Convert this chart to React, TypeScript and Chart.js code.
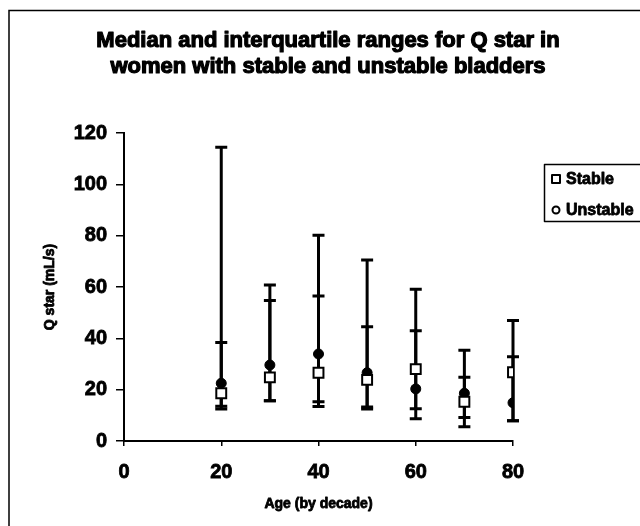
import React, { useEffect, useRef } from "react";
import { Chart, registerables } from "chart.js";

Chart.register(...registerables);

const titleLines = [
  "Median and interquartile ranges for Q star in",
  "women with stable and unstable bladders",
];
const xTitle = "Age (by decade)";
const yTitle = "Q star (mL/s)";

const ages = [20, 30, 40, 50, 60, 70, 80];
const stableMedian = [18.6, 24.8, 26.6, 23.8, 28, 15.3, 26.8];
const stableLower = [13.5, 15.7, 13.4, 12.5, 12.6, 5.6, 7.9];
const stableUpper = [38.4, 54.7, 56.5, 44.5, 59.1, 24.8, 32.8];
const unstableMedian = [22.5, 29.6, 33.9, 26.6, 20.3, 18.6, 14.9];
const unstableLower = [12.5, 15.7, 15.3, 13.2, 8.7, 9.2, 7.9];
const unstableUpper = [114.4, 60.8, 80.2, 70.5, 43, 35.4, 46.9];

const xTicks = [0, 20, 40, 60, 80];
const yTicks = [0, 20, 40, 60, 80, 100, 120];

const FONT = "'Liberation Sans', Arial, sans-serif";

const errorBars = {
  id: "errorBars",
  beforeDatasetsDraw(chart: any) {
    const { ctx, scales } = chart;
    const x = scales.x;
    const y = scales.y;
    ctx.save();
    ctx.strokeStyle = "#000";
    ctx.lineWidth = 3;
    ctx.lineCap = "butt";
    chart.data.datasets.forEach((ds: any) => {
      ds.data.forEach((p: any, i: number) => {
        const px = x.getPixelForValue(p.x);
        const y1 = y.getPixelForValue(ds.lower[i]);
        const y2 = y.getPixelForValue(ds.upper[i]);
        ctx.beginPath();
        ctx.moveTo(px, y1);
        ctx.lineTo(px, y2);
        ctx.moveTo(px - 6, y1);
        ctx.lineTo(px + 6, y1);
        ctx.moveTo(px - 6, y2);
        ctx.lineTo(px + 6, y2);
        ctx.stroke();
      });
    });
    ctx.restore();
  },
};

const decorations = {
  id: "decorations",
  afterDraw(chart: any) {
    const { ctx } = chart;
    ctx.save();
    // outer frame
    ctx.strokeStyle = "#000";
    ctx.lineWidth = 1.5;
    ctx.strokeRect(9, 10.5, 700, 600);
    // title
    ctx.fillStyle = "#000";
    ctx.font = `bold 22px ${FONT}`;
    ctx.textAlign = "center";
    ctx.textBaseline = "middle";
    ctx.lineWidth = 1.2;
    ctx.lineJoin = "round";
    titleLines.forEach((t, i) => {
      const ty = 41 + i * 26;
      ctx.strokeText(t, 328, ty);
      ctx.fillText(t, 328, ty);
    });
    // axis titles
    ctx.font = `bold 14px ${FONT}`;
    ctx.lineWidth = 0.8;
    const { chartArea } = chart;
    const cx = (chartArea.left + chartArea.right) / 2;
    ctx.strokeText(xTitle, cx, 504);
    ctx.fillText(xTitle, cx, 504);
    ctx.save();
    ctx.translate(50, (chartArea.top + chartArea.bottom) / 2);
    ctx.rotate(-Math.PI / 2);
    ctx.strokeText(yTitle, 0, 0);
    ctx.fillText(yTitle, 0, 0);
    ctx.restore();
    // legend
    ctx.lineWidth = 1.5;
    ctx.strokeRect(544.5, 164.5, 120, 57);
    ctx.font = `bold 16px ${FONT}`;
    ctx.textAlign = "left";
    const items = chart.data.datasets;
    items.forEach((ds: any, i: number) => {
      const cy = 179 + i * 31;
      const mx = 556;
      ctx.lineWidth = 2;
      ctx.strokeStyle = "#000";
      ctx.fillStyle = "#fff";
      if (ds.pointStyle === "rect") {
        ctx.fillRect(mx - 4, cy - 4, 8, 8);
        ctx.strokeRect(mx - 4, cy - 4, 8, 8);
      } else {
        ctx.beginPath();
        ctx.arc(mx, cy, 3.5, 0, Math.PI * 2);
        ctx.fill();
        ctx.stroke();
      }
      ctx.fillStyle = "#000";
      ctx.lineWidth = 0.8;
      ctx.strokeText(ds.label, 566, cy + 1);
      ctx.fillText(ds.label, 566, cy + 1);
    });
    ctx.restore();
  },
};

export default function App() {
  const ref = useRef<HTMLCanvasElement | null>(null);

  useEffect(() => {
    if (!ref.current) return;
    Chart.defaults.font.family = FONT;
    const chart = new Chart(ref.current, {
      type: "scatter",
      data: {
        datasets: [
          {
            label: "Stable",
            data: ages.map((a, i) => ({ x: a, y: stableMedian[i] })),
            lower: stableLower,
            upper: stableUpper,
            pointStyle: "rect",
            pointRadius: 7,
            pointBackgroundColor: "#fff",
            pointBorderColor: "#000",
            pointBorderWidth: 2,
            showLine: false,
          } as any,
          {
            label: "Unstable",
            data: ages.map((a, i) => ({ x: a, y: unstableMedian[i] })),
            lower: unstableLower,
            upper: unstableUpper,
            pointStyle: "circle",
            pointRadius: 5,
            pointBackgroundColor: "#000",
            pointBorderColor: "#000",
            pointBorderWidth: 1,
            showLine: false,
          } as any,
        ],
      },
      options: {
        animation: false,
        responsive: false,
        devicePixelRatio: 1,
        layout: { padding: { top: 133, right: 127, left: 0, bottom: 0 } },
        plugins: {
          legend: { display: false },
          title: { display: false },
          tooltip: { enabled: false },
        },
        scales: {
          x: {
            type: "linear",
            min: xTicks[0],
            max: xTicks[xTicks.length - 1],
            ticks: {
              stepSize: xTicks[1] - xTicks[0],
              color: "#000",
              font: { size: 20, weight: "bold" },
              padding: 14,
              textStrokeColor: "#000",
              textStrokeWidth: 0.8,
            },
            grid: {
              drawOnChartArea: false,
              drawTicks: true,
              tickLength: 5,
              color: "#000",
              lineWidth: 1.5,
            },
            border: { display: true, color: "#000", width: 2 },
            title: { display: false },
            afterFit: (s: any) => {
              s.height = 85;
            },
          },
          y: {
            type: "linear",
            min: yTicks[0],
            max: yTicks[yTicks.length - 1],
            ticks: {
              stepSize: yTicks[1] - yTicks[0],
              color: "#000",
              font: { size: 20, weight: "bold" },
              padding: 9,
              textStrokeColor: "#000",
              textStrokeWidth: 0.8,
            },
            grid: {
              drawOnChartArea: false,
              drawTicks: true,
              tickLength: 8,
              color: "#000",
              lineWidth: 1.5,
            },
            border: { display: true, color: "#000", width: 2 },
            title: { display: false },
            afterFit: (s: any) => {
              s.width = 124;
            },
          },
        },
      } as any,
      plugins: [errorBars, decorations],
    });
    return () => chart.destroy();
  }, []);

  return (
    <div style={{ position: "absolute", left: 0, top: 0, width: 640, height: 526, background: "#fff" }}>
      <canvas ref={ref} width={640} height={526} style={{ width: 640, height: 526, display: "block" }} />
    </div>
  );
}
